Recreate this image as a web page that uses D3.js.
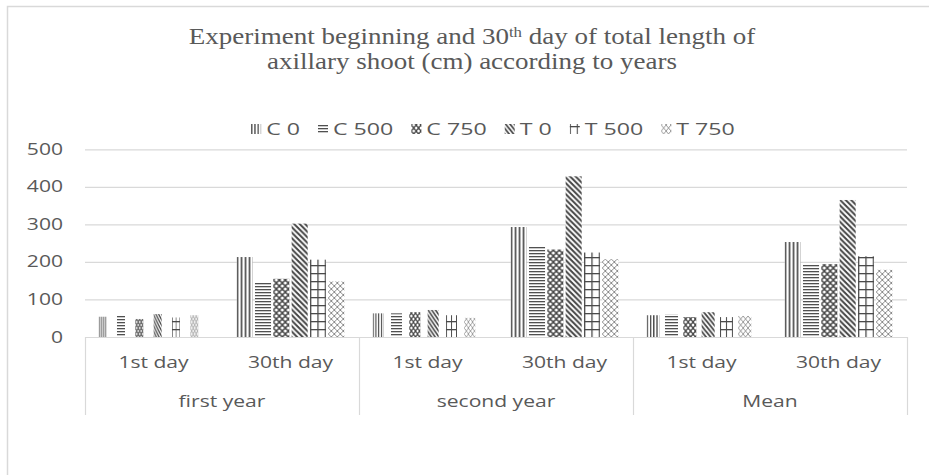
<!DOCTYPE html>
<html>
<head>
<meta charset="utf-8">
<script src="https://cdn.jsdelivr.net/npm/d3@7"></script>
<style>
  body { margin: 0; background: #fff; }
  svg { display: block; }
</style>
</head>
<body>
<svg id="chart" width="929" height="475"></svg>
<script>
// ---- data ----
const groups = ["first year", "second year", "Mean"];
const days = ["1st day", "30th day"];
const seriesNames = ["C 0", "C 500", "C 750", "T 0", "T 500", "T 750"];
// values in order: first year (1st, 30th), second year (1st, 30th), Mean (1st, 30th)
const c0   = [54, 213, 63, 293, 58, 253];
const c500 = [57, 145, 63, 242, 60, 194];
const c750 = [48, 155, 66, 233, 53, 194];
const t0   = [61, 302, 72, 428, 66, 365];
const t500 = [52, 206, 58, 225, 53, 215];
const t750 = [58, 148, 51, 207, 56, 179];
const yTicks = [0, 100, 200, 300, 400, 500];

const seriesValues = [c0, c500, c750, t0, t500, t750];
const patternKinds = ["vert", "horiz", "chain", "diag", "grid", "diamond"];

// ---- layout ----
const svg = d3.select("#chart");
const defs = svg.append("defs");
const textColor = "#595959";
const gridColor = "#d9d9d9";
const SX = 1.36;            // horizontal text stretch
const sansFont = "'Open Sans', sans-serif";
const serifFont = "'Liberation Serif', 'Times New Roman', serif";

const plot = { left: 85, right: 907, top: 149.3, bottom: 337 };

const y = d3.scaleLinear().domain([0, 500]).range([plot.bottom, plot.top]);
const x0 = d3.scaleBand().domain(groups).range([plot.left, plot.right]);
const x1 = d3.scaleBand().domain(days).range([0, x0.bandwidth()]);
const x2 = d3.scaleBand().domain(seriesNames).range([0, x1.bandwidth()])
  .paddingInner(0.125).paddingOuter(0.8);

// first-day bars are drawn narrower, per group
const firstDayWidth = { "first year": 8, "second year": 11, "Mean": 13 };

function stext(parent, x, yy, str, anchor, size, sx, family) {
  return parent.append("text")
    .attr("transform", `translate(${x},${yy}) scale(${sx || SX},1)`)
    .attr("text-anchor", anchor)
    .attr("font-family", family || sansFont)
    .attr("font-size", size)
    .attr("fill", textColor)
    .text(str);
}

// pattern tiles anchored at (ox, oy); k squeezes the tile horizontally
function makePattern(id, kind, ox, oy, w, k) {
  const ink = "#444";
  let tw = 4, th = 4;
  if (kind === "horiz") { tw = 4; th = 3; }
  if (kind === "chain") { tw = 6; th = 6; }
  if (kind === "diag") { tw = 5.5; th = 5.5; }
  if (kind === "grid") { tw = Math.max(4, (w - 1.3) / (w > 12 ? 2 : 1)); th = 8; }
  if (kind === "diamond") { tw = 6; th = 6; }
  const p = defs.append("pattern")
    .attr("id", id)
    .attr("patternUnits", "userSpaceOnUse")
    .attr("patternTransform", `scale(${k},1)`)
    .attr("x", ox / k).attr("y", oy)
    .attr("width", tw).attr("height", th);
  p.append("rect").attr("width", tw).attr("height", th).attr("fill", "#fff");
  if (kind === "vert") {
    p.append("rect").attr("x", 0).attr("width", 1.6).attr("height", th).attr("fill", ink);
  } else if (kind === "horiz") {
    p.append("rect").attr("y", 0).attr("width", tw).attr("height", 1.3).attr("fill", "#505050");
  } else if (kind === "chain") {
    p.append("rect").attr("width", tw).attr("height", th).attr("fill", "#4a4a4a");
    [[0, 0], [6, 0], [0, 6], [6, 6], [3, 3]].forEach(([cx, cy]) =>
      p.append("circle").attr("cx", cx).attr("cy", cy).attr("r", 1.6).attr("fill", "#fff"));
  } else if (kind === "diag") {
    p.append("path")
      .attr("d", `M0,0L${tw},${th}M${-tw / 2},${th / 2}L${tw / 2},${th * 1.5}M${tw / 2},${-th / 2}L${tw * 1.5},${th / 2}`)
      .attr("stroke", ink).attr("stroke-width", 2);
  } else if (kind === "grid") {
    p.append("rect").attr("x", 0).attr("width", 1.3).attr("height", th).attr("fill", "#4a4a4a");
    p.append("rect").attr("y", 0).attr("width", tw).attr("height", 1.3).attr("fill", "#4a4a4a");
  } else if (kind === "diamond") {
    p.append("path").attr("d", "M3,0L6,3L3,6L0,3Z")
      .attr("fill", "none").attr("stroke", "#8c8c8c").attr("stroke-width", 1);
  }
  return `url(#${id})`;
}

// ---- outer frame ----
svg.append("rect")
  .attr("x", 7.5).attr("y", 6.5).attr("width", 960).attr("height", 500)
  .attr("fill", "none").attr("stroke", gridColor).attr("stroke-width", 1.5);

// ---- title ----
const TSX = 1.2;
const titleX = 472;
const titleG = svg.append("g");
const title1 = titleG.append("text")
  .attr("transform", `translate(${titleX},44) scale(${TSX},1)`)
  .attr("text-anchor", "middle")
  .attr("font-family", serifFont)
  .attr("font-size", 22.5)
  .attr("fill", textColor);
title1.append("tspan").text("Experiment beginning and 30");
title1.append("tspan").attr("font-size", 14).attr("dy", -7).text("th");
title1.append("tspan").attr("dy", 7).text(" day of total length of");
titleG.append("text")
  .attr("transform", `translate(${titleX},69) scale(${TSX},1)`)
  .attr("text-anchor", "middle")
  .attr("font-family", serifFont)
  .attr("font-size", 22.5)
  .attr("fill", textColor)
  .text("axillary shoot (cm) according to years");

// ---- gridlines and y labels ----
svg.append("g").selectAll("line")
  .data(yTicks.filter(d => d > 0))
  .join("line")
  .attr("x1", plot.left).attr("x2", plot.right)
  .attr("y1", d => y(d) + 0.5).attr("y2", d => y(d) + 0.5)
  .attr("stroke", gridColor).attr("stroke-width", 1.2);

const yAxisG = svg.append("g");
yTicks.forEach(t => stext(yAxisG, 63, y(t) + 5.5, String(t), "end", 15.5));

// ---- bars ----
const barsG = svg.append("g");
groups.forEach((g, gi) => {
  days.forEach((dname, di) => {
    const idx = gi * days.length + di;
    seriesNames.forEach((s, si) => {
      const v = seriesValues[si][idx];
      const slotX = x0(g) + x1(dname) + x2(s);
      let bx = slotX, bw = x2.bandwidth();
      if (di === 0) { bw = firstDayWidth[g]; bx = slotX - 1; }
      const k = bw / x2.bandwidth();
      const fill = makePattern(`p${gi}${di}${si}`, patternKinds[si], bx, plot.bottom, x2.bandwidth(), k);
      barsG.append("rect")
        .attr("x", bx).attr("y", y(v))
        .attr("width", bw).attr("height", y(0) - y(v))
        .attr("fill", fill);
    });
  });
});

// ---- two-level category axis ----
const axisG = svg.append("g").attr("stroke", gridColor).attr("stroke-width", 1.2);
axisG.append("line")
  .attr("x1", plot.left).attr("x2", plot.right)
  .attr("y1", plot.bottom + 0.5).attr("y2", plot.bottom + 0.5);
const dividers = groups.map(g => x0(g)).concat([x0(groups[groups.length - 1]) + x0.bandwidth()]);
axisG.selectAll("line.div")
  .data(dividers)
  .join("line").attr("class", "div")
  .attr("x1", d => d + 0.5).attr("x2", d => d + 0.5)
  .attr("y1", plot.bottom).attr("y2", 415);

const labelsG = svg.append("g");
groups.forEach(g => {
  days.forEach(dname => {
    stext(labelsG, x0(g) + x1(dname) + x1.bandwidth() / 2, 368, dname, "middle", 15.5);
  });
  stext(labelsG, x0(g) + x0.bandwidth() / 2, 407, g, "middle", 15.5);
});

// ---- legend ----
const legendG = svg.append("g");
const LSX = 1.45, swatch = 10, swGap = 5, itemGap = 18, legendY = 129;
const items = [];
let cursor = 0;
seriesNames.forEach((s, si) => {
  const t = stext(legendG, 0, 0, s, "start", 16, LSX);
  const tw = t.node().getComputedTextLength() * LSX;
  items.push({ si, x: cursor, t });
  cursor += swatch + swGap + tw + itemGap;
});
const legendW = cursor - itemGap;
const legendX0 = 493 - legendW / 2;
items.forEach(it => {
  const sx = legendX0 + it.x;
  const fill = makePattern(`lg${it.si}`, patternKinds[it.si], sx, legendY + 5, swatch, 0.8);
  legendG.append("rect")
    .attr("x", sx).attr("y", legendY - 5)
    .attr("width", swatch).attr("height", swatch)
    .attr("fill", fill);
  it.t.attr("transform", `translate(${sx + swatch + swGap},${legendY + 6}) scale(${LSX},1)`);
});
</script>
</body>
</html>
